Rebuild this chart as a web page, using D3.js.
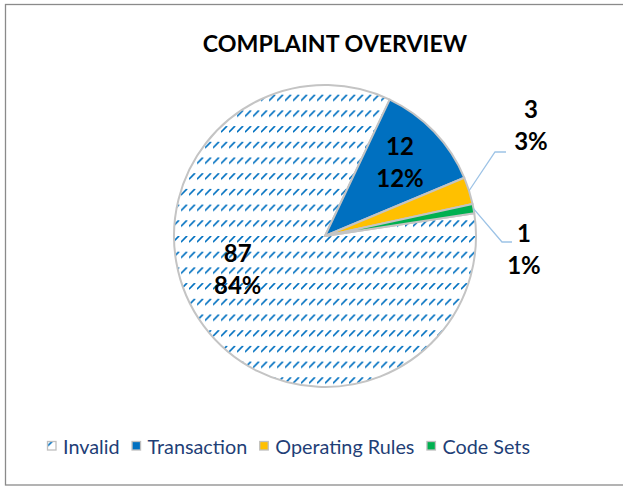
<!DOCTYPE html>
<html>
<head>
<meta charset="utf-8">
<script src="https://cdn.jsdelivr.net/npm/d3@7"></script>
<style>
  body { margin: 0; background: #fff; }
  svg { display: block; }
</style>
</head>
<body>
<svg id="chart"></svg>
<script>
// data
const categories = ["Invalid", "Transaction", "Operating Rules", "Code Sets"];
const counts = [87, 12, 3, 1];
const percentLabels = ["84%", "12%", "3%", "1%"];
const colors = ["url(#dashUp)", "#0070C0", "#FFC000", "#00B050"];

const width = 623, height = 487;
const cx = 325, cy = 236, r = 151;
const rotation = 81.3 * Math.PI / 180;   // angle of first slice

const svg = d3.select("#chart").attr("width", width).attr("height", height);

// dashed upward diagonal pattern
const defs = svg.append("defs");
const pat = defs.append("pattern")
    .attr("id", "dashUp")
    .attr("patternUnits", "userSpaceOnUse")
    .attr("width", 8).attr("height", 15.7);
pat.append("rect").attr("width", 8).attr("height", 15.7).attr("fill", "#fff");
pat.append("path")
    .attr("d", "M0.5,5.5 L5.5,0.5")
    .attr("stroke", "#0070C0")
    .attr("stroke-width", 1.7)
    .attr("stroke-linecap", "square");

// chart border
svg.append("rect")
    .attr("x", 5.5).attr("y", 4.5)
    .attr("width", 700).attr("height", 480.5)
    .attr("fill", "#fff")
    .attr("stroke", "#8a8a8a")
    .attr("stroke-width", 1.3);

const font = "Lato, 'Open Sans', sans-serif";

// title
svg.append("text")
    .attr("x", 335).attr("y", 52)
    .attr("text-anchor", "middle")
    .attr("font-family", font)
    .attr("font-weight", "bold")
    .attr("font-size", 23.2)
    .attr("fill", "#000")
    .text("COMPLAINT OVERVIEW");

// pie
const pie = d3.pie().sort(null).value(d => d)
    .startAngle(rotation).endAngle(rotation + 2 * Math.PI);
const arcs = pie(counts);
const arc = d3.arc().innerRadius(0).outerRadius(r);

const g = svg.append("g").attr("transform", `translate(${cx},${cy})`);
g.selectAll("path.slice")
    .data(arcs)
    .join("path")
    .attr("class", "slice")
    .attr("d", arc)
    .attr("fill", (d, i) => colors[i])
    .attr("stroke", "#c4c4c4")
    .attr("stroke-width", 2)
    .attr("stroke-linejoin", "round");

// label placement (layout only): inside labels by angle/radius, outside ones with a leader
const labelLayout = [
  {inside: true, angle: 244.5, rf: 0.64},
  {inside: true, angle: 49.1, rf: 0.657},
  {inside: false, elbow: [495, 152], end: [506, 152], text: [531, 134]},
  {inside: false, elbow: [502, 242], end: [512, 242], text: [524, 257.5]}
];

arcs.forEach((d, i) => {
  const L = labelLayout[i];
  let tx, ty;
  if (L.inside) {
    const a = L.angle * Math.PI / 180;
    tx = cx + Math.sin(a) * r * L.rf;
    ty = cy - Math.cos(a) * r * L.rf;
  } else {
    const mid = (d.startAngle + d.endAngle) / 2;
    const p0 = [cx + Math.sin(mid) * r, cy - Math.cos(mid) * r];
    svg.append("polyline")
      .attr("points", [p0, L.elbow, L.end].map(p => p.join(",")).join(" "))
      .attr("fill", "none")
      .attr("stroke", "#9DC3E6")
      .attr("stroke-width", 1.3);
    [tx, ty] = L.text;
  }
  const t = svg.append("text")
    .attr("text-anchor", "middle")
    .attr("font-family", font)
    .attr("font-weight", "bold")
    .attr("font-size", 24)
    .attr("fill", "#000");
  t.append("tspan").attr("x", tx).attr("y", ty - 16).text(counts[i]);
  t.append("tspan").attr("x", tx).attr("y", ty + 16).text(percentLabels[i]);
});

// legend
const legend = svg.append("g");
let lx = 47;
categories.forEach((c, i) => {
  legend.append("rect")
    .attr("x", lx + 0.5).attr("y", 441.5)
    .attr("width", 8.5).attr("height", 8.5)
    .attr("fill", colors[i])
    .attr("stroke", "#bfbfbf")
    .attr("stroke-width", 1.3);
  const t = legend.append("text")
    .attr("x", lx + 16).attr("y", 454)
    .attr("font-family", font)
    .attr("font-size", 19.8)
    .attr("fill", "#1F3F77")
    .text(c);
  lx += 16 + t.node().getComputedTextLength() + 12;
});
</script>
</body>
</html>
